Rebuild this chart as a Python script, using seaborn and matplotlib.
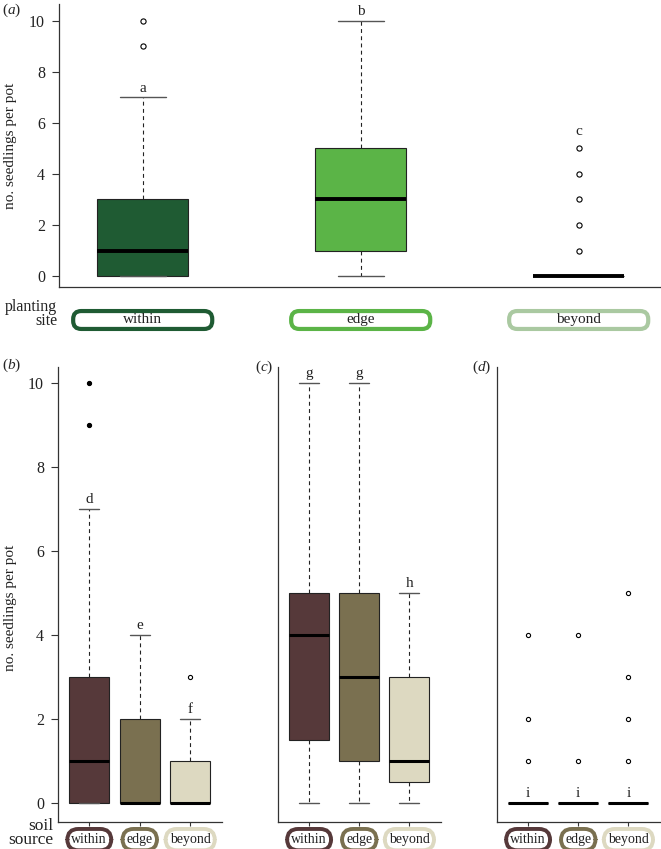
import matplotlib
matplotlib.use("Agg")
import matplotlib.pyplot as plt
from matplotlib.patches import FancyBboxPatch
import seaborn as sns

sites = ["within", "edge", "beyond"]
site_colors = ["#1f5b33", "#5bb447", "#aac9a1"]
soil_colors = ["#56393a", "#7a7050", "#ddd9c1"]

# (a) planting site
a_low = [0, 0, 0]
a_q1 = [0, 1, 0]
a_med = [1, 3, 0]
a_q3 = [3, 5, 0]
a_high = [7, 10, 0]
a_fliers = [[9, 10], [], [1, 2, 3, 4, 5]]
a_letters = ["a", "b", "c"]
a_letter_at = [7, 10, 5.3]

# (b) planted within, by soil source
b_low = [0, 0, 0]
b_q1 = [0, 0, 0]
b_med = [1, 0, 0]
b_q3 = [3, 2, 1]
b_high = [7, 4, 2]
b_fliers = [[9, 10], [], [3]]
b_filled = [True, False, False]
b_letters = ["d", "e", "f"]
b_letter_at = [7, 4, 2]

# (c) planted at edge
c_low = [0, 0, 0]
c_q1 = [1.5, 1, 0.5]
c_med = [4, 3, 1]
c_q3 = [5, 5, 3]
c_high = [10, 10, 5]
c_fliers = [[], [], []]
c_letters = ["g", "g", "h"]
c_letter_at = [10, 10, 5]

# (d) planted beyond
d_low = [0, 0, 0]
d_q1 = [0, 0, 0]
d_med = [0, 0, 0]
d_q3 = [0, 0, 0]
d_high = [0, 0, 0]
d_fliers = [[1, 2, 4], [1, 4], [1, 2, 3, 5]]
d_letters = ["i", "i", "i"]
d_letter_at = [0, 0, 0]

sns.set_theme(style="ticks")
plt.rcParams["font.family"] = ["Liberation Serif", "DejaVu Serif"]
plt.rcParams["mathtext.fontset"] = "custom"
plt.rcParams["mathtext.rm"] = "Liberation Serif"
plt.rcParams["mathtext.it"] = "Liberation Serif:italic"

W, H = 661, 849
fig = plt.figure(figsize=(W / 100, H / 100), dpi=100)


def px_axes(left, top, right, bottom):
    return fig.add_axes([left / W, 1 - bottom / H, (right - left) / W, (bottom - top) / H])


def draw_boxes(ax, low, q1, med, q3, high, colors, width, capw, med_lw):
    stats = []
    for i in range(len(low)):
        stats.append(dict(whislo=low[i], q1=q1[i], med=med[i], q3=q3[i],
                          whishi=high[i], fliers=[]))
    art = ax.bxp(stats, positions=range(len(stats)), widths=width, capwidths=capw,
                 patch_artist=True, showfliers=False, manage_ticks=False,
                 boxprops=dict(edgecolor="#222222", linewidth=0.8),
                 medianprops=dict(color="black", linewidth=med_lw, solid_capstyle="butt"),
                 whiskerprops=dict(color="#222222", linewidth=0.8, linestyle=(0, (3.5, 3))),
                 capprops=dict(color="#555555", linewidth=1.0))
    for patch, c in zip(art["boxes"], colors):
        patch.set_facecolor(c)


def draw_fliers(ax, pts, filled, size):
    for i, vals in enumerate(pts):
        if not vals:
            continue
        face = "black" if filled[i] else "white"
        sns.scatterplot(x=[i] * len(vals), y=vals, ax=ax, s=size, color=face,
                        edgecolor="black", linewidth=0.8, zorder=4)


def draw_letters(ax, letters, at, offset):
    for i, (lab, y) in enumerate(zip(letters, at)):
        ax.annotate(lab, xy=(i, y), xytext=(0, offset), textcoords="offset points",
                    ha="center", va="bottom", fontsize=11, color="#222222")


def style_axis(ax, ylim, xlim):
    ax.set_xlim(*xlim)
    ax.set_ylim(*ylim)
    sns.despine(ax=ax)
    for s in ["left", "bottom"]:
        ax.spines[s].set_color("#333333")
        ax.spines[s].set_linewidth(0.9)
    ax.tick_params(axis="y", length=5, width=0.8, color="#333333", pad=5,
                   labelsize=11.5, labelcolor="#222222")
    ax.set_facecolor("none")


# panel (a)
ax_a = px_axes(59, 4, 660, 287)
draw_boxes(ax_a, a_low, a_q1, a_med, a_q3, a_high, site_colors, 0.42, 0.21, 2.8)
draw_fliers(ax_a, a_fliers, [False, False, False], 14)
draw_letters(ax_a, a_letters, a_letter_at, 2)
style_axis(ax_a, (-0.43, 10.66), (-0.384, 2.373))
ax_a.set_yticks([0, 2, 4, 6, 8, 10])
ax_a.set_xticks([])
ax_a.set_ylabel("no. seedlings per pot", fontsize=11, color="#222222")
ax_a.yaxis.set_label_coords(-0.07, 0.5)

# pills for planting site
ax_p = px_axes(59, 304, 660, 336)
ax_p.set_xlim(ax_a.get_xlim())
ax_p.set_ylim(0, 1)
ax_p.axis("off")
aspect = (1 / 32) / ((2.373 + 0.384) / 601)
pill_w = 0.638
for i, (name, c) in enumerate(zip(sites, site_colors)):
    ax_p.add_patch(FancyBboxPatch((i - pill_w / 2, 0.22), pill_w, 0.56,
                                  boxstyle="round,pad=0,rounding_size=0.037",
                                  mutation_aspect=aspect, fc="white", ec=c, lw=3.0,
                                  clip_on=False))
    ax_p.text(i, 0.5, name, ha="center", va="center", fontsize=11, color="#222222")

fig.text(57 / W, 1 - 314 / H, "planting\nsite", ha="right", va="center",
         fontsize=11.5, linespacing=0.9, color="#222222")

# bottom panels
bottom_sets = [
    ("b", (58, 222), b_low, b_q1, b_med, b_q3, b_high, b_fliers, b_filled, b_letters, b_letter_at),
    ("c", (278, 441), c_low, c_q1, c_med, c_q3, c_high, c_fliers, [False] * 3, c_letters, c_letter_at),
    ("d", (497, 660), d_low, d_q1, d_med, d_q3, d_high, d_fliers, [False] * 3, d_letters, d_letter_at),
]
for tag, (l, r), lo, q1, md, q3, hi, fl, filled, lets, at in bottom_sets:
    ax = px_axes(l, 367, r, 822)
    draw_boxes(ax, lo, q1, md, q3, hi, soil_colors, 0.8, 0.4, 2.2)
    draw_fliers(ax, fl, filled, 9)
    draw_letters(ax, lets, at, 2)
    style_axis(ax, (-0.452, 10.38), (-0.62, 2.63))
    if tag == "b":
        ax.set_yticks([0, 2, 4, 6, 8, 10])
        ax.set_ylabel("no. seedlings per pot", fontsize=11, color="#222222")
        ax.yaxis.set_label_coords(-0.25, 0.47)
    else:
        ax.set_yticks([])
    ax.set_xticks(range(3), sites)
    ax.tick_params(axis="x", length=3, width=0.8, color="#333333", pad=5,
                   labelsize=10, labelcolor="#222222")
    for lab, c in zip(ax.get_xticklabels(), soil_colors):
        lab.set_bbox(dict(boxstyle="round,pad=0.3,rounding_size=0.8",
                          fc="white", ec=c, lw=2.8))

fig.text(53 / W, 1 - 833 / H, "soil\nsource", ha="right", va="center",
         fontsize=12.5, linespacing=0.85, color="#222222")

# panel tags
fig.text(2 / W, 1 - 10 / H, r"($\mathit{a}$)", va="center", ha="left", fontsize=11)
fig.text(2 / W, 1 - 365 / H, r"($\mathit{b}$)", va="center", ha="left", fontsize=11)
fig.text(255 / W, 1 - 367 / H, r"($\mathit{c}$)", va="center", ha="left", fontsize=11)
fig.text(472 / W, 1 - 367 / H, r"($\mathit{d}$)", va="center", ha="left", fontsize=11)

fig.savefig("out.png", dpi=100)
